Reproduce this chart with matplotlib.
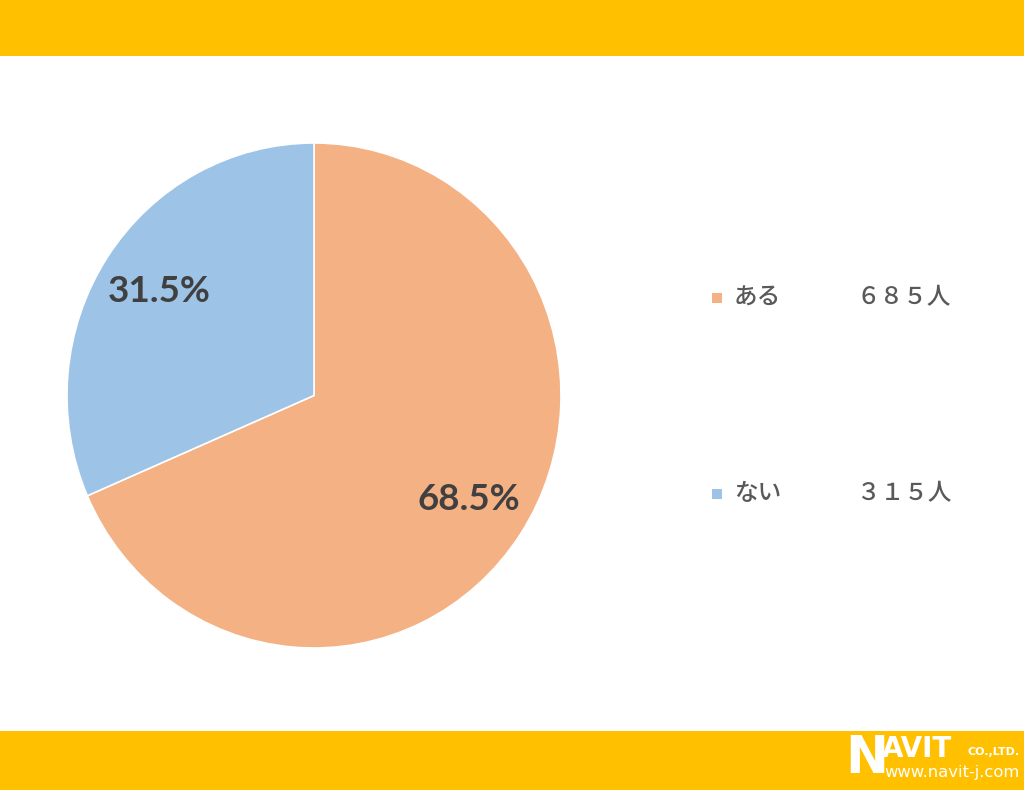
import matplotlib

matplotlib.use("Agg")
import matplotlib.pyplot as plt
from matplotlib.patches import Rectangle

plt.rcParams["font.family"] = ["Noto Sans CJK JP", "DejaVu Sans"]

# data
answers = ["ある", "ない"]
counts = [685, 315]
slice_colors = ["#F4B183", "#9DC3E6"]

BAND = "#FFC000"
W, H = 1024, 790


def to_fullwidth(text):
    return text.translate(str.maketrans("0123456789", "０１２３４５６７８９"))


fig = plt.figure(figsize=(W / 100, H / 100), dpi=100)
fig.patch.set_facecolor("white")

# yellow header / footer bands
fig.patches.append(Rectangle((0, 1 - 56 / H), 1, 56 / H, transform=fig.transFigure,
                             facecolor=BAND, edgecolor="none", zorder=0))
fig.patches.append(Rectangle((0, 0), 1, 59 / H, transform=fig.transFigure,
                             facecolor=BAND, edgecolor="none", zorder=0))

# pie
ax = fig.add_axes([67 / W, 142 / H, 494 / W, 505 / H])
wedges, _, pct_texts = ax.pie(
    counts,
    colors=slice_colors,
    startangle=90,
    counterclock=False,
    autopct="%1.1f%%",
    pctdistance=0.75,
    wedgeprops=dict(edgecolor="white", linewidth=1.2),
)
for t in pct_texts:
    t.set_fontfamily("Lato")
    t.set_fontweight("bold")
    t.set_fontsize(26.5)
    t.set_color("#404040")
ax.set_aspect("auto")
ax.set_xlim(-1, 1)
ax.set_ylim(-1, 1)
ax.axis("off")

# legend with counts
legend_rows_y = [298, 494]
for answer, count, color, y in zip(answers, counts, slice_colors, legend_rows_y):
    yf = 1 - y / H
    fig.patches.append(Rectangle((712 / W, yf - 5 / H), 10 / W, 10 / H,
                                 transform=fig.transFigure, facecolor=color,
                                 edgecolor="none"))
    fig.text(734 / W, yf, answer, fontsize=17, fontweight="medium", color="#595959",
             ha="left", va="center")
    fig.text(951 / W, yf, to_fullwidth(str(count)) + "人", fontsize=17,
             fontweight="medium", color="#595959", ha="right", va="center")

# footer logo
fig.text(845 / W, 1 - 759 / H, "N", fontsize=37, fontweight="bold", color="white",
         family="DejaVu Sans", ha="left", va="center")
fig.text(882 / W, 1 - 749 / H, "AVIT", fontsize=20, fontweight="bold", color="white",
         family="DejaVu Sans", ha="left", va="center")
fig.text(967 / W, 1 - 752 / H, "CO.,LTD.", fontsize=8, fontweight="bold",
         color="white", family="DejaVu Sans", ha="left", va="center")
fig.text(884 / W, 1 - 772 / H, "www.navit-j.com", fontsize=11.8, color="white",
         family="DejaVu Sans", ha="left", va="center")

fig.savefig("out.png", dpi=100)
